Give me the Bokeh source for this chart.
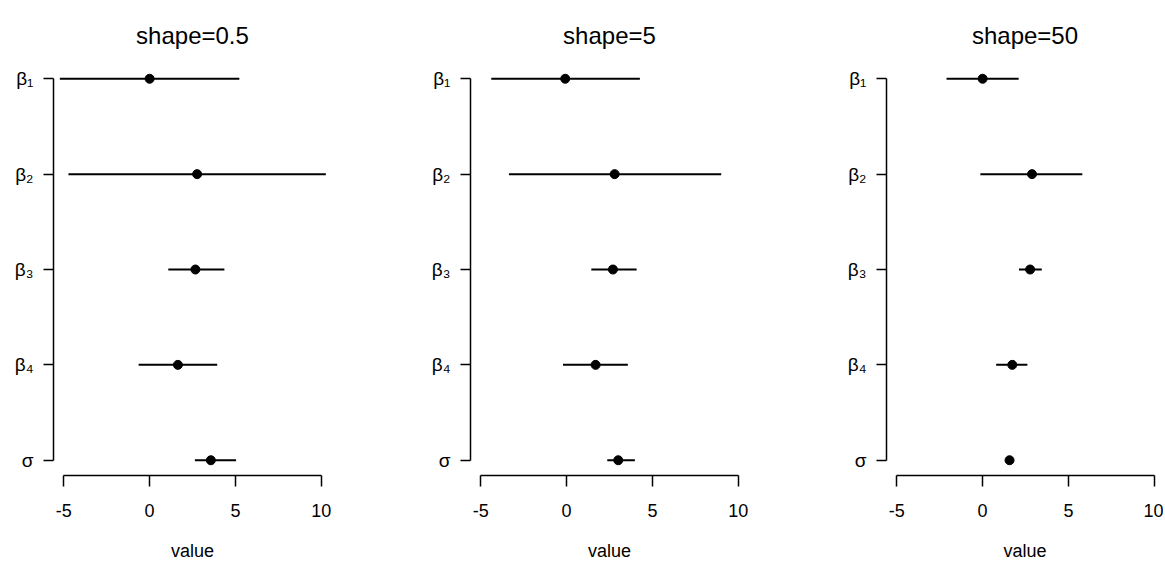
from bokeh.plotting import figure
from bokeh.layouts import row
from bokeh.models import FixedTicker, ColumnDataSource, Range1d
from bokeh.embed import file_html
from bokeh.resources import INLINE

# ---- data ----
params = ["β₁", "β₂", "β₃", "β₄", "σ"]
ypos = [5, 4, 3, 2, 1]
titles = ["shape=0.5", "shape=5", "shape=50"]
x_ticks = [-5, 0, 5, 10]
x_tick_labels = ["-5", "0", "5", "10"]

mean_s05 = [0.00, 2.77, 2.67, 1.65, 3.57]
lo_s05 = [-5.23, -4.73, 1.09, -0.64, 2.64]
hi_s05 = [5.23, 10.27, 4.36, 3.94, 5.04]

mean_s5 = [-0.08, 2.80, 2.70, 1.69, 3.01]
lo_s5 = [-4.39, -3.36, 1.44, -0.21, 2.37]
hi_s5 = [4.27, 9.01, 4.08, 3.57, 3.98]

mean_s50 = [0.00, 2.88, 2.77, 1.73, 1.57]
lo_s50 = [-2.10, -0.13, 2.12, 0.79, 1.45]
hi_s50 = [2.10, 5.81, 3.45, 2.61, 1.69]

panels = [
    (titles[0], mean_s05, lo_s05, hi_s05),
    (titles[1], mean_s5, lo_s5, hi_s5),
    (titles[2], mean_s50, lo_s50, hi_s50),
]

FONT = "Liberation Sans"
X0 = -5.6
SCALE = 17.16  # px per unit
widths = [417, 416, 330]
rights = [86, 85, 0]
LEFT = 53
TOP = 63
FRAME_H = 413
HEIGHT = 563
figs = []
for i, (ttl, m, lo, hi) in enumerate(panels):
    w = widths[i]
    right = rights[i]
    frame_w = w - LEFT - right
    x1 = X0 + frame_w / SCALE
    p = figure(width=w, height=HEIGHT, output_backend="svg", toolbar_location=None,
               x_range=Range1d(X0, x1), y_range=Range1d(0.84, 5.16),
               min_border_left=LEFT, min_border_right=right,
               min_border_top=TOP, min_border_bottom=HEIGHT - TOP - FRAME_H,
               title=ttl)
    p.outline_line_color = None
    p.xgrid.visible = False
    p.ygrid.visible = False
    p.background_fill_color = "white"
    p.border_fill_color = "white"

    p.title.text_font = FONT
    p.title.text_font_size = "24px"
    p.title.text_font_style = "normal"
    p.title.align = "center"
    p.title.text_color = "black"
    p.title.standoff = 30

    src = ColumnDataSource(dict(y=ypos, m=m, lo=lo, hi=hi))
    p.segment(x0="lo", y0="y", x1="hi", y1="y", source=src,
              line_color="black", line_width=2)
    p.scatter(x="m", y="y", source=src, size=9, fill_color="black",
              line_color="black")

    xa = p.xaxis[0]
    xa.ticker = FixedTicker(ticks=x_ticks)
    xa.bounds = (x_ticks[0], x_ticks[-1])
    xa.major_label_overrides = {t: s for t, s in zip(x_ticks, x_tick_labels)}
    xa.minor_tick_line_color = None
    xa.major_tick_in = 0
    xa.major_tick_out = 11
    xa.axis_line_width = 1.5
    xa.major_tick_line_width = 1.5
    xa.major_label_text_font = FONT
    xa.major_label_text_font_size = "18px"
    xa.major_label_text_color = "black"
    xa.major_label_standoff = 17
    xa.axis_label = "value"
    xa.axis_label_text_font = FONT
    xa.axis_label_text_font_size = "18px"
    xa.axis_label_text_font_style = "normal"
    xa.axis_label_text_color = "black"
    xa.axis_label_standoff = 21

    ya = p.yaxis[0]
    ya.ticker = FixedTicker(ticks=ypos)
    ya.bounds = (1, 5)
    ya.major_label_overrides = {y: s for y, s in zip(ypos, params)}
    ya.minor_tick_line_color = None
    ya.major_tick_in = 0
    ya.major_tick_out = 10
    ya.axis_line_width = 1.5
    ya.major_tick_line_width = 1.5
    ya.major_label_text_font = FONT
    ya.major_label_text_font_size = "19px"
    ya.major_label_text_color = "black"
    ya.major_label_standoff = 10
    figs.append(p)

layout = row(*figs)
open("out.html", "w").write(file_html(layout, INLINE))
